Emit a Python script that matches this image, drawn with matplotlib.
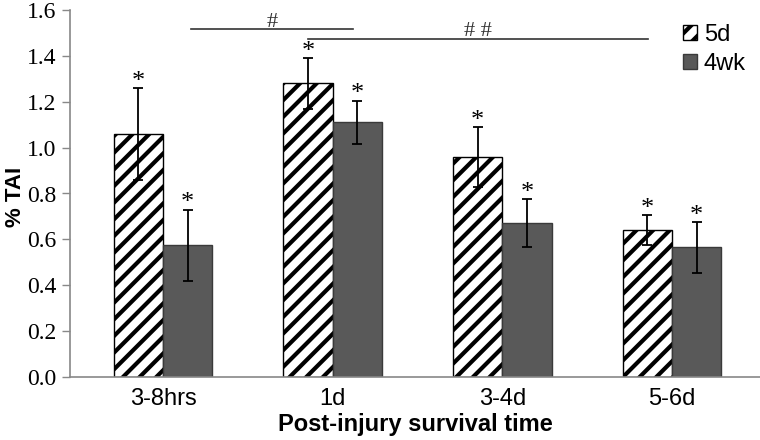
import numpy as np
import matplotlib
matplotlib.use("Agg")
import matplotlib.pyplot as plt

# data
categories = ["3-8hrs", "1d", "3-4d", "5-6d"]
tai_5d = [1.06, 1.28, 0.96, 0.64]
err_5d = [0.20, 0.11, 0.13, 0.065]
tai_4wk = [0.575, 1.11, 0.67, 0.565]
err_4wk = [0.155, 0.095, 0.105, 0.11]
sig_lines = [(0.165, 1.12, 1.515, "#"), (0.855, 2.86, 1.475, "# #")]

plt.rcParams["hatch.linewidth"] = 3.0
serif = "Liberation Serif"
sans = "Liberation Sans"

fig = plt.figure(figsize=(7.6, 4.4), dpi=100)
ax = fig.add_axes([70 / 760, 63 / 440, 690 / 760, 367 / 440])

x = np.arange(len(categories))
w = 0.29
ax.bar(x - w / 2, tai_5d, w, color="white", edgecolor="black", hatch="//",
       linewidth=1.0, label="5d", zorder=2)
ax.bar(x + w / 2, tai_4wk, w, color="#595959", edgecolor="#3a3a3a",
       linewidth=1.0, label="4wk", zorder=2)
ax.errorbar(x - w / 2, tai_5d, yerr=err_5d, fmt="none", ecolor="black",
            elinewidth=1.3, capsize=3.5, capthick=1.3, zorder=3)
ax.errorbar(x + w / 2, tai_4wk, yerr=err_4wk, fmt="none", ecolor="black",
            elinewidth=1.3, capsize=3.5, capthick=1.3, zorder=3)

# significance asterisks above each error bar
for xs, vals, errs in [(x - w / 2, tai_5d, err_5d), (x + w / 2, tai_4wk, err_4wk)]:
    for xi, v, e in zip(xs, vals, errs):
        ax.text(xi, v + e - 0.02, "*", ha="center", va="bottom",
                fontsize=19, family=serif)

for x0, x1, y, lab in sig_lines:
    ax.plot([x0, x1], [y, y], color="#333333", lw=1.2, clip_on=False)
    ax.text((x0 + x1) / 2, y - 0.01, lab, ha="center", va="bottom", fontsize=16,
            family=serif, color="#333333")

ax.set_xlim(-0.548, 3.518)
ax.set_ylim(0, 1.6)
yt = np.arange(0, 1.61, 0.2)
ax.set_yticks(yt)
ax.set_yticklabels([f"{v:.1f}" for v in yt], family=serif, fontsize=17)
ax.set_xticks(x)
ax.set_xticklabels(categories, family=sans, fontsize=17)
ax.tick_params(axis="x", length=0, pad=8)
ax.tick_params(axis="y", length=6, color="#888888", width=1, pad=4)
for s in ["top", "right"]:
    ax.spines[s].set_visible(False)
for s in ["left", "bottom"]:
    ax.spines[s].set_color("#888888")
    ax.spines[s].set_linewidth(1.2)

ax.set_xlabel("Post-injury survival time", family=sans, fontweight="bold",
              fontsize=17, labelpad=2)
ax.set_ylabel("% TAI", family=sans, fontweight="bold", fontsize=16)
ax.yaxis.set_label_coords(-0.064, 0.49)

ax.legend(loc="upper right", bbox_to_anchor=(1.0, 1.0), frameon=False,
          prop={"family": sans, "size": 17}, handlelength=0.6, handleheight=0.6,
          handletextpad=0.3, labelspacing=0.3, borderaxespad=0.2)

fig.savefig("out.png", dpi=100)
